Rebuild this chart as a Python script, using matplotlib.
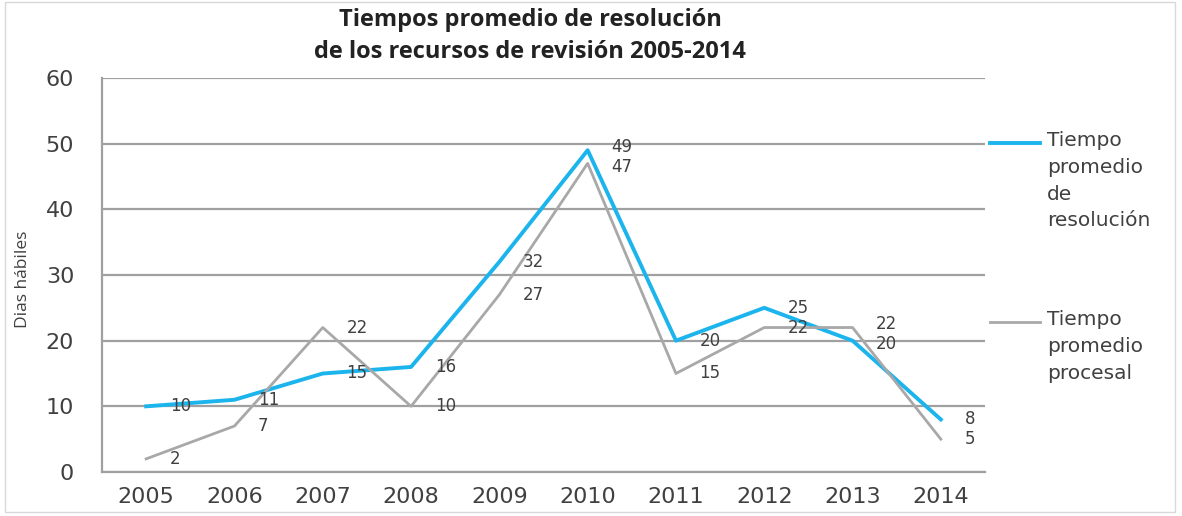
import matplotlib.pyplot as plt
from matplotlib.lines import Line2D
from matplotlib.patches import Rectangle

anios = ['2005', '2006', '2007', '2008', '2009', '2010', '2011', '2012', '2013', '2014']
resolucion = [10, 11, 15, 16, 32, 49, 20, 25, 20, 8]
procesal = [2, 7, 22, 10, 27, 47, 15, 22, 22, 5]
nombres = ['Tiempo\npromedio\nde\nresolución', 'Tiempo\npromedio\nprocesal']

azul = '#1cb4ec'
gris = '#a8a8a8'
texto = '#404040'

fig = plt.figure(figsize=(11.82, 5.16), dpi=100)
ax = fig.add_axes([102 / 1182, 44 / 516, 883 / 1182, 394 / 516])

x = list(range(len(anios)))
ax.plot(x, resolucion, color=azul, lw=2.8)
ax.plot(x, procesal, color=gris, lw=2.0)

for i in x:
    a, b = resolucion[i], procesal[i]
    # si las etiquetas quedan muy juntas, separarlas un poco
    dy = 2.5 if abs(a - b) <= 2 else 0
    da = dy if a >= b else -dy
    ax.annotate(str(a), (i, a), xytext=(17, da), textcoords='offset points',
                va='center', ha='left', fontsize=12, color=texto, family='DejaVu Sans')
    ax.annotate(str(b), (i, b), xytext=(17, -da), textcoords='offset points',
                va='center', ha='left', fontsize=12, color=texto, family='DejaVu Sans')

ax.set_xlim(-0.5, len(anios) - 0.5)
ax.set_ylim(0, 60)
ax.set_yticks(range(0, 61, 10))
ax.set_xticks(x)
ax.set_xticklabels(anios)
ax.tick_params(axis='both', length=0, labelsize=16, labelcolor=texto)
ax.tick_params(axis='x', pad=11)
ax.tick_params(axis='y', pad=20)
ax.grid(axis='y', color='#a0a0a0', lw=1.6)
ax.set_axisbelow(True)
for s in ['top', 'right']:
    ax.spines[s].set_visible(False)
for s in ['left', 'bottom']:
    ax.spines[s].set_color('#a0a0a0')
    ax.spines[s].set_linewidth(1.6)

ax.set_ylabel('Dias hábiles', fontsize=12.5, color=texto, family='Open Sans')
ax.yaxis.set_label_coords(-0.08, 0.49)

fig.text(530 / 1182, 1 - 36 / 516, 'Tiempos promedio de resolución\nde los recursos de revisión 2005-2014',
         ha='center', va='center', fontsize=17, fontweight='bold', family='Open Sans',
         color='#222222', linespacing=1.45)

# leyenda a mano: la linea alineada con la primera linea del texto
for color, lw, ytop, nombre in [(azul, 2.8, 143, nombres[0]), (gris, 2.0, 322, nombres[1])]:
    fig.add_artist(Line2D([990 / 1182, 1040 / 1182], [1 - ytop / 516] * 2, color=color, lw=lw))
    fig.text(1047 / 1182, 1 - (ytop - 12) / 516, nombre, ha='left', va='top', fontsize=14.5,
             color=texto, family='DejaVu Sans', linespacing=1.52)

fig.patches.append(Rectangle((5 / 1182, 4 / 516), 1170 / 1182, 510 / 516, transform=fig.transFigure,
                             fill=False, edgecolor='#d8d8d8', lw=1))

fig.savefig('out.png', dpi=100)
